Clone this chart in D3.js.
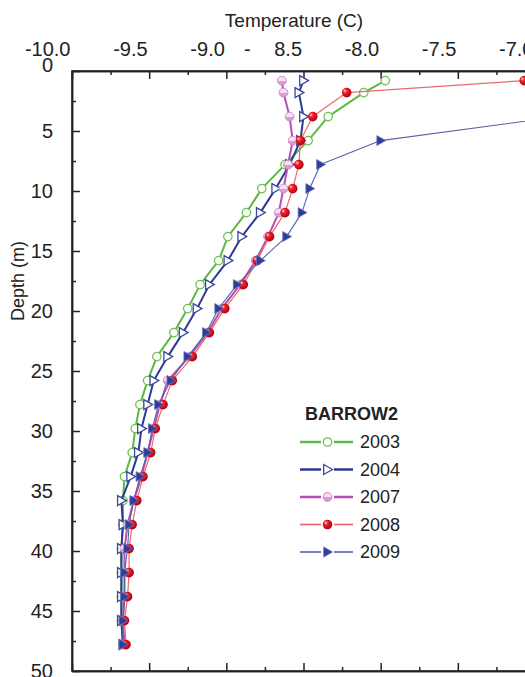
<!DOCTYPE html>
<html>
<head>
<meta charset="utf-8">
<script src="https://cdn.jsdelivr.net/npm/d3@7"></script>
<style>
  html, body { margin: 0; padding: 0; background: #fff; }
  svg { display: block; font-family: "Liberation Sans", Arial, sans-serif; }
  .axis path, .axis line { stroke: #222; stroke-width: 1.5; }
</style>
</head>
<body>
<svg id="chart" width="525" height="677"></svg>
<script>
// Data (depth in m, temperature in C)
const depths = [0.8, 1.8, 3.8, 5.8, 7.8, 9.8, 11.8, 13.8, 15.8, 17.8, 19.8, 21.8, 23.8,
  25.8, 27.8, 29.8, 31.8, 33.8, 35.8, 37.8, 39.8, 41.8, 43.8, 45.8, 47.8];
const depths2009 = [3.8, 5.8, 7.8, 9.8, 11.8, 13.8, 15.8, 17.8, 19.8, 21.8, 23.8,
  25.8, 27.8, 29.8, 31.8, 33.8, 35.8, 37.8, 39.8, 41.8, 43.8, 45.8, 47.8];

const t2003 = [-7.97, -8.11, -8.34, -8.47, -8.62, -8.77, -8.87, -8.99, -9.05, -9.17, -9.25, -9.34, -9.45,
  -9.51, -9.56, -9.59, -9.61, -9.66, -9.67, -9.67, -9.68, -9.68, -9.68, -9.68, -9.67];
const t2004 = [-8.50, -8.53, -8.50, -8.52, -8.59, -8.68, -8.78, -8.90, -8.99, -9.11, -9.19, -9.28, -9.38,
  -9.47, -9.51, -9.55, -9.57, -9.62, -9.68, -9.67, -9.68, -9.68, -9.68, -9.68, -9.67];
const t2007 = [-8.64, -8.63, -8.59, -8.57, -8.60, -8.63, -8.66, -8.73, -8.81, -8.91, -9.03, -9.12, -9.24,
  -9.38, -9.43, -9.47, -9.51, -9.55, -9.60, -9.64, -9.66, -9.66, -9.66, -9.67, -9.66];
const t2008 = [-7.07, -8.22, -8.44, -8.52, -8.53, -8.57, -8.62, -8.72, -8.80, -8.89, -9.01, -9.11, -9.22,
  -9.35, -9.41, -9.46, -9.49, -9.54, -9.58, -9.61, -9.63, -9.63, -9.64, -9.66, -9.65];
const t2009 = [-6.84, -8.00, -8.39, -8.46, -8.51, -8.61, -8.78, -8.93, -9.05, -9.13, -9.25,
  -9.36, -9.44, -9.48, -9.51, -9.56, -9.60, -9.63, -9.64, -9.66, -9.66, -9.67, -9.67];

const xMajor = [-10, -9.5, -9, -8.5, -8, -7.5, -7];
const xMinor = [-9.75, -9.25, -8.75, -8.25, -7.75, -7.25];
const xLabels = ["-10.0", "-9.5", "-9.0", "- 8.5", "-8.0", "-7.5", "-7.0"];
const yMajor = [0, 5, 10, 15, 20, 25, 30, 35, 40, 45, 50];
const yMinor = [2.5, 7.5, 12.5, 17.5, 22.5, 27.5, 32.5, 37.5, 42.5, 47.5];

const series = [
  { name: "2003", depth: depths, temp: t2003, line: "#5db846", width: 2, marker: "circleOpen" },
  { name: "2004", depth: depths, temp: t2004, line: "#2b3a94", width: 2, marker: "triOpen" },
  { name: "2007", depth: depths, temp: t2007, line: "#b44db4", width: 2, marker: "circlePink" },
  { name: "2008", depth: depths, temp: t2008, line: "#e86a68", width: 1.2, marker: "sphere" },
  { name: "2009", depth: depths2009, temp: t2009, line: "#5862aa", width: 1.1, marker: "triFilled" }
];

const svg = d3.select('#chart');

// Gradients for the shaded markers
const defs = svg.append('defs');
const sphere = defs.append('radialGradient').attr('id', 'sphere')
  .attr('cx', '40%').attr('cy', '40%').attr('r', '60%').attr('fx', '30%').attr('fy', '30%');
sphere.append('stop').attr('offset', '0%').attr('stop-color', '#ffd0d0');
sphere.append('stop').attr('offset', '35%').attr('stop-color', '#f0222a');
sphere.append('stop').attr('offset', '100%').attr('stop-color', '#b00010');
const pink = defs.append('linearGradient').attr('id', 'pink')
  .attr('x1', 0).attr('y1', 0).attr('x2', 0).attr('y2', 1);
pink.append('stop').attr('offset', '0%').attr('stop-color', '#f7dff3');
pink.append('stop').attr('offset', '50%').attr('stop-color', '#f7dff3');
pink.append('stop').attr('offset', '50%').attr('stop-color', '#dc9ad4');
pink.append('stop').attr('offset', '100%').attr('stop-color', '#dc9ad4');

// Scales
const x = d3.scaleLinear().domain([-10, -7]).range([72, 535]);
const y = d3.scaleLinear().domain([0, 50]).range([71, 671]);

// Frame
svg.append('rect')
  .attr('x', x(-10)).attr('y', y(0))
  .attr('width', x(-7) - x(-10)).attr('height', y(50) - y(0))
  .attr('fill', 'none').attr('stroke', '#222').attr('stroke-width', 1.5);

// Top axis (labels right-aligned to the tick, as in the figure)
const topAxis = svg.append('g').attr('class', 'axis')
  .attr('transform', `translate(0,${y(0)})`)
  .call(d3.axisTop(x).tickValues(xMajor).tickSize(-8).tickSizeOuter(0).tickPadding(15)
    .tickFormat((d, i) => xLabels[i]));
topAxis.selectAll('text')
  .attr('text-anchor', 'end').attr('x', -2)
  .attr('font-size', 20).attr('fill', '#222')
  .attr('font-family', '"Liberation Sans", Arial, sans-serif');
// "- 8.5" is printed with a wide gap in the reference
topAxis.selectAll('text').filter((d, i) => i === 3)
  .text(null)
  .call(t => {
    t.append('tspan').text('-');
    t.append('tspan').attr('dx', 18).text(' 8.5');
  });
svg.append('g').attr('class', 'axis')
  .attr('transform', `translate(0,${y(0)})`)
  .call(d3.axisTop(x).tickValues(xMinor).tickSize(-4).tickSizeOuter(0).tickFormat(''));

// Bottom axis, ticks only
svg.append('g').attr('class', 'axis')
  .attr('transform', `translate(0,${y(50)})`)
  .call(d3.axisBottom(x).tickValues(xMajor).tickSize(-8).tickSizeOuter(0).tickFormat(''));
svg.append('g').attr('class', 'axis')
  .attr('transform', `translate(0,${y(50)})`)
  .call(d3.axisBottom(x).tickValues(xMinor).tickSize(-4).tickSizeOuter(0).tickFormat(''));

// Left axis
const leftAxis = svg.append('g').attr('class', 'axis')
  .attr('transform', `translate(${x(-10)},0)`)
  .call(d3.axisLeft(y).tickValues(yMajor).tickSize(-8).tickSizeOuter(0).tickPadding(19));
leftAxis.selectAll('text')
  .attr('font-size', 20).attr('fill', '#222')
  .attr('font-family', '"Liberation Sans", Arial, sans-serif');
leftAxis.selectAll('text').filter(d => d === 0).attr('dy', '0.02em');
svg.append('g').attr('class', 'axis')
  .attr('transform', `translate(${x(-10)},0)`)
  .call(d3.axisLeft(y).tickValues(yMinor).tickSize(-4).tickSizeOuter(0).tickFormat(''));

// Axis titles
svg.append('text')
  .attr('x', 294).attr('y', 27)
  .attr('text-anchor', 'middle').attr('font-size', 19).attr('fill', '#222')
  .text('Temperature (C)');
svg.append('text')
  .attr('transform', `translate(24,${y(17.5)}) rotate(-90)`)
  .attr('text-anchor', 'middle').attr('font-size', 18).attr('fill', '#222')
  .text('Depth (m)');

// Marker drawing
function drawMarker(sel, type) {
  if (type === 'circleOpen') {
    sel.append('circle').attr('r', 4.2).attr('fill', '#fff')
      .attr('stroke', '#6cc152').attr('stroke-width', 1.3);
  } else if (type === 'triOpen') {
    sel.append('path').attr('d', 'M-3.8,-5 L5,0 L-3.8,5 Z').attr('fill', '#fff')
      .attr('stroke', '#3a48a0').attr('stroke-width', 1.3);
  } else if (type === 'circlePink') {
    sel.append('circle').attr('r', 4.4).attr('fill', 'url(#pink)')
      .attr('stroke', '#d08ac8').attr('stroke-width', 1);
  } else if (type === 'sphere') {
    sel.append('circle').attr('r', 4.8).attr('fill', 'url(#sphere)');
  } else if (type === 'triFilled') {
    sel.append('path').attr('d', 'M-3.8,-5 L5,0 L-3.8,5 Z').attr('fill', '#2e3d98')
      .attr('stroke', '#6670b8').attr('stroke-width', 0.8);
  }
}

const lineGen = d3.line().x(d => x(d.t)).y(d => y(d.d));

const plot = svg.append('g');
series.forEach(s => {
  const pts = s.depth.map((d, i) => ({ d: d, t: s.temp[i] }));
  plot.append('path')
    .datum(pts)
    .attr('d', lineGen)
    .attr('fill', 'none')
    .attr('stroke', s.line)
    .attr('stroke-width', s.width)
    .attr('stroke-linejoin', 'round');
  plot.selectAll(null)
    .data(pts)
    .enter()
    .append('g')
    .attr('transform', d => `translate(${x(d.t)},${y(d.d)})`)
    .each(function () { drawMarker(d3.select(this), s.marker); });
});

// Legend
const legend = svg.append('g').attr('transform', 'translate(300,0)');
legend.append('text')
  .attr('x', 5).attr('y', 420)
  .attr('font-size', 18).attr('font-weight', 'bold').attr('fill', '#222')
  .text('BARROW2');
series.forEach((s, i) => {
  const ly = 442 + i * 27.5;
  const row = legend.append('g').attr('transform', `translate(0,${ly})`);
  row.append('line').attr('x1', 0).attr('x2', 21).attr('y1', 0).attr('y2', 0)
    .attr('stroke', s.line).attr('stroke-width', s.width + 0.5);
  row.append('line').attr('x1', 34).attr('x2', 53).attr('y1', 0).attr('y2', 0)
    .attr('stroke', s.line).attr('stroke-width', s.width + 0.5);
  const m = row.append('g').attr('transform', 'translate(27.5,0)');
  drawMarker(m, s.marker);
  row.append('text')
    .attr('x', 60).attr('y', 0).attr('dy', '0.35em')
    .attr('font-size', 18).attr('fill', '#222')
    .text(s.name);
});
</script>
</body>
</html>
